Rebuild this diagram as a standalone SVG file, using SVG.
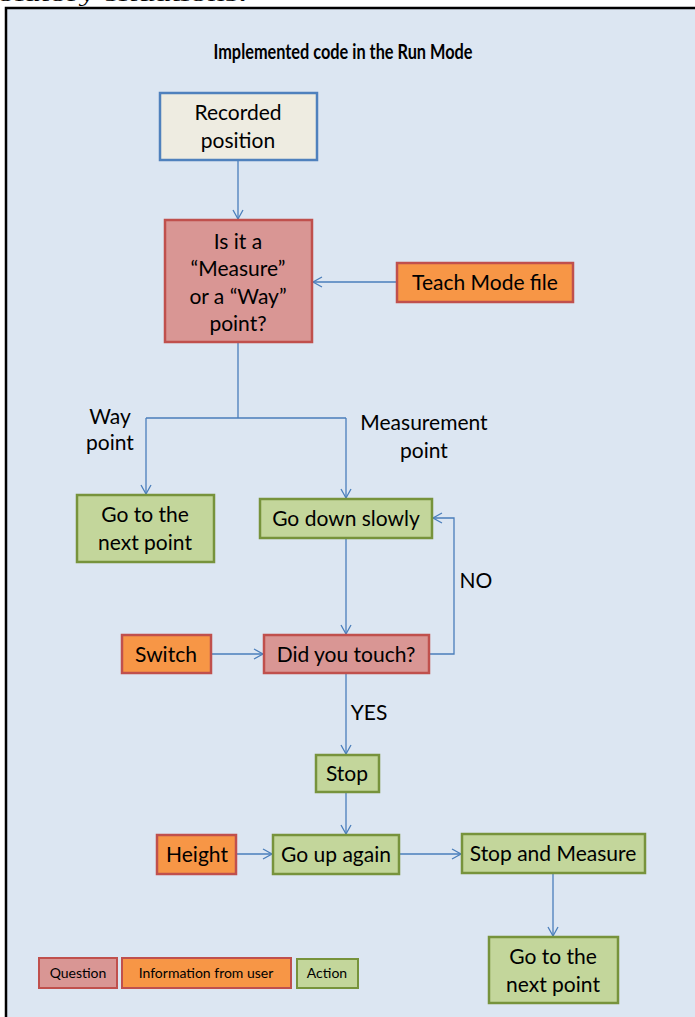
<svg xmlns="http://www.w3.org/2000/svg" width="695" height="1017" viewBox="0 0 695 1017">
<style>
.t{font-family:Lato,"Liberation Sans",sans-serif;font-size:21px;fill:#000;text-anchor:middle}
.s{font-size:14px}
.q{fill:#D99694;stroke:#C0504D;stroke-width:2.5}
.i{fill:#F79646;stroke:#C0504D;stroke-width:2.5}
.a{fill:#C3D69B;stroke:#77933C;stroke-width:2.5}
.r{fill:#EEECE1;stroke:#4F81BD;stroke-width:2.5}
.c{fill:none;stroke:#4A7EBB;stroke-width:1.3;marker-end:url(#ar)}
.l{fill:none;stroke:#4A7EBB;stroke-width:1.3}
</style>
<defs>
<marker id="ar" markerWidth="12" markerHeight="12" refX="10" refY="6" orient="auto" markerUnits="userSpaceOnUse">
<polyline points="1,1 10,6 1,11" fill="none" stroke="#4A7EBB" stroke-width="1.3"/>
</marker>
</defs>
<rect width="695" height="1017" fill="#fff"/>
<text x="-3" y="1" font-family="'Liberation Serif',serif" font-size="20" textLength="250" lengthAdjust="spacingAndGlyphs">olatory situations.</text>
<rect x="6" y="8" width="700" height="1020" fill="#DCE6F2" stroke="#000" stroke-width="2.5"/>
<text x="343" y="59" class="t" style="font-weight:bold;font-size:21px" textLength="259" lengthAdjust="spacingAndGlyphs">Implemented code in the Run Mode</text>
<g id="connectors">
<path class="c" d="M238,160 V219"/>
<path class="c" d="M397,282 H313"/>
<path class="l" d="M238,342 V418 M146,418 H346"/>
<path class="c" d="M146,418 V494"/>
<path class="c" d="M346,418 V498"/>
<path class="c" d="M346,538 V634"/>
<path class="c" d="M429,654 H454 V518 H433"/>
<path class="c" d="M211,654 H263"/>
<path class="c" d="M346,673 V754"/>
<path class="c" d="M346,792 V834"/>
<path class="c" d="M236,854 H272"/>
<path class="c" d="M399,854 H461"/>
<path class="c" d="M553,873 V936"/>
</g>
<g id="recorded"><rect class="r" x="160" y="93" width="157" height="67"/><text class="t" x="238" y="120">Recorded</text><text class="t" x="238" y="148">position</text></g>
<g id="question1"><rect class="q" x="165" y="220" width="147" height="122"/><text class="t" x="238" y="249">Is it a</text><text class="t" x="238" y="276">“Measure”</text><text class="t" x="238" y="304">or a “Way”</text><text class="t" x="238" y="331">point?</text></g>
<g id="teach"><rect class="i" x="397" y="263" width="176" height="39"/><text class="t" x="485" y="290">Teach Mode file</text></g>
<g id="lbl-way"><text class="t" x="110" y="424">Way</text><text class="t" x="110" y="450">point</text></g>
<g id="lbl-meas"><text class="t" x="424" y="430">Measurement</text><text class="t" x="424" y="458">point</text></g>
<g id="next1"><rect class="a" x="77" y="495" width="137" height="67"/><text class="t" x="145" y="522">Go to the</text><text class="t" x="145" y="550">next point</text></g>
<g id="godown"><rect class="a" x="260" y="499" width="172" height="39"/><text class="t" x="346" y="526">Go down slowly</text></g>
<g id="lbl-no"><text class="t" x="476" y="588">NO</text></g>
<g id="switch"><rect class="i" x="122" y="635" width="89" height="38"/><text class="t" x="166" y="662">Switch</text></g>
<g id="touch"><rect class="q" x="264" y="635" width="165" height="38"/><text class="t" x="346" y="662">Did you touch?</text></g>
<g id="lbl-yes"><text class="t" x="369" y="720">YES</text></g>
<g id="stop"><rect class="a" x="316" y="755" width="63" height="37"/><text class="t" x="347" y="781">Stop</text></g>
<g id="height"><rect class="i" x="157" y="835" width="79" height="39"/><text class="t" x="197" y="862">Height</text></g>
<g id="goup"><rect class="a" x="273" y="835" width="126" height="39"/><text class="t" x="336" y="862">Go up again</text></g>
<g id="stopmeasure"><rect class="a" x="462" y="834" width="183" height="39"/><text class="t" x="553" y="861">Stop and Measure</text></g>
<g id="next2"><rect class="a" x="489" y="937" width="129" height="66"/><text class="t" x="553" y="964">Go to the</text><text class="t" x="553" y="992">next point</text></g>
<g id="legend">
<rect class="q" x="39" y="958" width="78" height="30" style="stroke-width:2"/><text class="t s" x="78" y="978">Question</text>
<rect class="i" x="122" y="958" width="169" height="30" style="stroke-width:2"/><text class="t s" x="206" y="978">Information from user</text>
<rect class="a" x="297" y="959" width="61" height="29" style="stroke-width:2"/><text class="t s" x="327" y="978">Action</text>
</g>
</svg>
